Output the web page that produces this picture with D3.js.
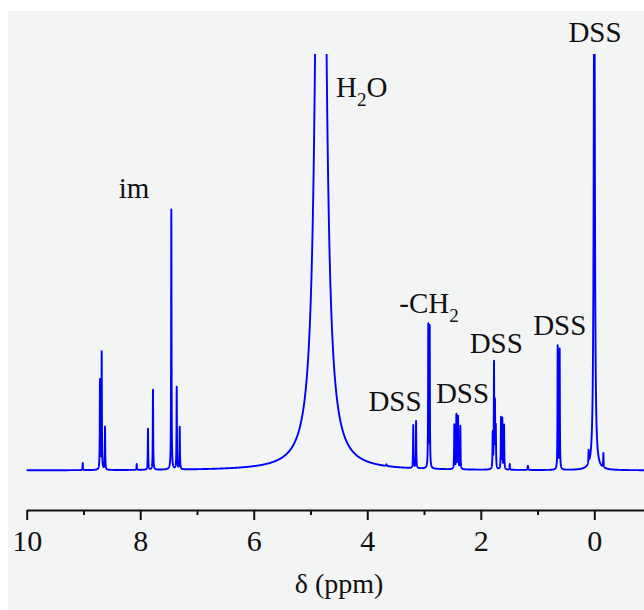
<!DOCTYPE html>
<html>
<head>
<meta charset="utf-8">
<script src="https://cdn.jsdelivr.net/npm/d3@7"></script>
<style>
  body { margin: 0; background: #fff; }
  svg text { font-family: "Liberation Serif", "Times New Roman", serif; fill: #111; }
</style>
</head>
<body>
<div class="spectrum"></div>
<script>
// peak list: position (ppm), apparent height (% of plot), half width (ppm)
const peakPpm = [9.013, 8.709, 8.679, 8.620, 8.062, 7.863, 7.775, 7.452, 7.357, 7.304,
  4.818, 3.66, 3.19, 3.14, 2.925, 2.90, 2.466, 2.43, 2.40, 2.36,
  1.79, 1.767, 1.75, 1.735, 1.644, 1.62, 1.59, 1.49, 1.17,
  0.645, 0.61, 0.10, 0.0, -0.16]
const peakHeight = [1.7, 21.4, 28.1, 10.3, 1.4, 9.8, 19.2, 62.4, 19.7, 10.1,
  345.7, 0.4, 10.3, 11.3, 34.1, 33.7, 10.6, 13.0, 12.5, 10.3,
  8.4, 25.0, 15.1, 9.6, 12.3, 12.0, 10.6, 1.4, 1.0,
  29.6, 28.8, 3.1, 130, 3.4]
const peakWidth = [0.004, 0.004, 0.004, 0.004, 0.004, 0.004, 0.004, 0.004, 0.004, 0.004,
  0.065, 0.006, 0.004, 0.004, 0.004, 0.004, 0.004, 0.004, 0.004, 0.004,
  0.004, 0.004, 0.004, 0.004, 0.004, 0.004, 0.004, 0.004, 0.006,
  0.004, 0.004, 0.004, 0.012, 0.004]

const majorTicks = [10, 8, 6, 4, 2, 0]
const minorTicks = [9, 7, 5, 3, 1]

// peak assignments
const labelText = ['im', 'H', '-CH', 'DSS', 'DSS', 'DSS', 'DSS', 'DSS']
const labelSub = ['', '2', '2', '', '', '', '', '']
const labelTail = ['', 'O', '', '', '', '', '', '']
const labelPpm = [8.11, 4.551, 3.436, 3.511, 2.322, 1.727, 0.609, -0.012]
const labelLevel = [65.4, 89.7, 37.8, 14.4, 16.3, 28.3, 32.5, 102.9]
const labelAnchor = ['middle', 'start', 'start', 'middle', 'middle', 'middle', 'middle', 'middle']

const w = 644
const h = 610

const svg = d3.select('.spectrum')
  .append('svg')
    .attr('width', w)
    .attr('height', h)

//grey panel
svg.append('rect')
  .attr('x', 8)
  .attr('y', 11)
  .attr('width', w - 8)
  .attr('height', h - 11)
  .attr('fill', '#f3f4f4')

//scales (x reversed, as usual for NMR)
const x = d3.scaleLinear()
  .domain([10, -1])
  .range([26.7, 26.7 + 11 * 56.76])

const y = d3.scaleLinear()
  .domain([0, 100])
  .range([470.5, 54])

//build the trace from the peak list
const grid = d3.range(10, -0.95, -0.001).concat(peakPpm)
grid.sort((a, b) => b - a)
const trace = grid.map(p => {
  let v = 0
  peakPpm.forEach((c, i) => {
    const g = peakWidth[i]
    v += peakHeight[i] * g * g / (g * g + (p - c) * (p - c))
  })
  return { ppm: p, value: v }
})

svg.append('clipPath')
  .attr('id', 'plot-clip')
  .append('rect')
    .attr('x', 0)
    .attr('y', y(100))
    .attr('width', w)
    .attr('height', 510 - y(100))

const line = d3.line()
  .x(d => x(d.ppm))
  .y(d => y(d.value))

svg.append('path')
  .datum(trace)
  .attr('clip-path', 'url(#plot-clip)')
  .attr('d', line)
  .attr('fill', 'none')
  .attr('stroke', '#0000ff')
  .attr('stroke-width', 1.9)
  .attr('stroke-linejoin', 'round')

//x axis
const axisY = 510
const gMinor = svg.append('g')
  .attr('transform', `translate(0,${axisY})`)
  .call(d3.axisBottom(x).tickValues(minorTicks).tickSize(5).tickSizeOuter(0).tickFormat(''))
gMinor.select('.domain').remove()
gMinor.selectAll('line').attr('stroke', '#111').attr('stroke-width', 2)

const gMajor = svg.append('g')
  .attr('transform', `translate(0,${axisY})`)
  .call(d3.axisBottom(x).tickValues(majorTicks).tickSize(10).tickSizeOuter(0).tickPadding(10).tickFormat(d3.format('d')))
gMajor.select('.domain').attr('stroke', '#111').attr('stroke-width', 2)
gMajor.selectAll('line').attr('stroke', '#111').attr('stroke-width', 2)
gMajor.selectAll('text')
  .style('font-family', '"Liberation Serif", serif')
  .style('font-size', '30px')
  .attr('fill', '#111')

//axis title
svg.append('text')
  .attr('x', 339)
  .attr('y', 593)
  .attr('text-anchor', 'middle')
  .style('font-size', '28px')
  .text('\u03b4 (ppm)')

//peak labels
labelText.forEach((t, i) => {
  const txt = svg.append('text')
    .attr('x', x(labelPpm[i]))
    .attr('y', y(labelLevel[i]))
    .attr('text-anchor', labelAnchor[i])
    .style('font-size', '29px')
  txt.append('tspan').text(t)
  if (labelSub[i]) {
    txt.append('tspan')
      .attr('dy', 9)
      .style('font-size', '19px')
      .text(labelSub[i])
  }
  if (labelTail[i]) {
    txt.append('tspan')
      .attr('dy', -9)
      .text(labelTail[i])
  }
})
</script>
</body>
</html>
